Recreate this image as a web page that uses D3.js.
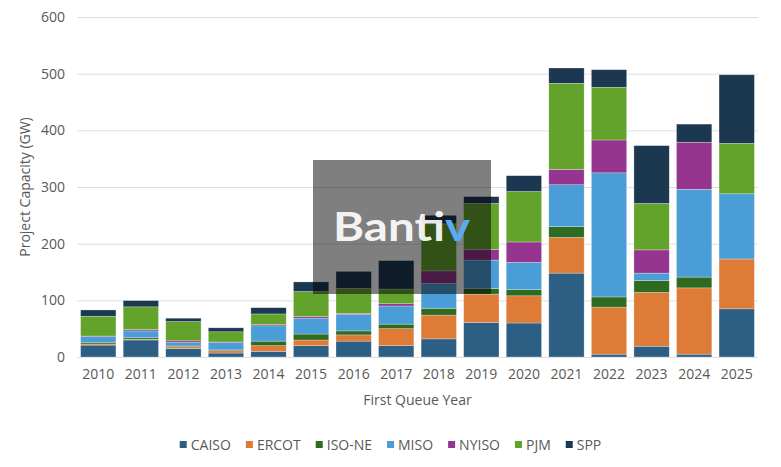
<!DOCTYPE html>
<html>
<head>
<meta charset="utf-8">
<script src="https://cdn.jsdelivr.net/npm/d3@7"></script>
<style>
  html, body { margin: 0; padding: 0; background: #fff; }
  text { font-family: "Open Sans", "Liberation Sans", sans-serif; fill: #595959; }
</style>
</head>
<body>
<svg id="chart" width="781" height="467"></svg>
<script>
"use strict";

// ---- data ----
const years = ["2010","2011","2012","2013","2014","2015","2016","2017","2018","2019","2020","2021","2022","2023","2024","2025"];
const seriesNames = ["CAISO", "ERCOT", "ISO-NE", "MISO", "NYISO", "PJM", "SPP"];

const caiso = [21, 30, 15, 7, 10, 20, 28, 20, 32, 61, 60, 148, 5, 19, 5, 85];
const ercot = [2, 1.5, 3, 4, 10, 10, 11, 30, 42, 50, 48, 63, 83, 95, 117, 88];
const isone = [3, 2.5, 1.5, 1.5, 8, 10.5, 7, 8, 12, 10, 11, 19, 18, 21, 19, 0];
const miso  = [10, 12, 6, 13, 27, 28, 29, 32, 44, 50, 48, 74, 219, 13, 155, 115];
const nyiso = [1, 2.5, 3, 1, 2, 3, 2, 4, 22, 19, 36, 27, 58, 41, 83, 0];
const pjm   = [35, 40, 34, 18, 19, 44, 44, 26, 83, 81, 89, 152, 93, 82, 0, 89];
const spp   = [11, 11, 6, 7, 11, 17, 30, 50, 15, 12, 28, 27, 31, 102, 32, 121];

const yTicks = [0, 100, 200, 300, 400, 500, 600];
const colors = ["#2d5f84", "#dd7b37", "#2f6a21", "#4a9dd6", "#95358f", "#63a32c", "#1b3850"];

// ---- build table for stacking ----
const allSeries = [caiso, ercot, isone, miso, nyiso, pjm, spp];
const table = years.map((y, i) => {
    let row = { year: y };
    seriesNames.forEach((s, k) => row[s] = allSeries[k][i]);
    return row;
});

const svg = d3.select("#chart");
const margin = { top: 17, right: 23, bottom: 110, left: 77 };
const width = 781 - margin.left - margin.right;
const height = 467 - margin.top - margin.bottom;

const g = svg.append("g").attr("transform", `translate(${margin.left},${margin.top})`);

const x = d3.scaleBand().domain(years).range([0, width]).paddingInner(0.17).paddingOuter(0.085);
const y = d3.scaleLinear().domain([0, 600]).range([height, 0]);
const color = d3.scaleOrdinal().domain(seriesNames).range(colors);

// gridlines
g.append("g")
    .call(d3.axisLeft(y).tickValues(yTicks).tickSize(-width).tickFormat(""))
    .call(ax => ax.select(".domain").remove())
    .call(ax => ax.selectAll("line").attr("stroke", "#dedede").attr("stroke-width", 1));

// y tick labels
g.append("g")
    .call(d3.axisLeft(y).tickValues(yTicks).tickSize(0).tickPadding(12))
    .call(ax => ax.select(".domain").remove())
    .call(ax => ax.selectAll("text").style("font-size", "14px").attr("fill", "#595959"));

// x tick labels
g.append("g")
    .attr("transform", `translate(0,${height})`)
    .call(d3.axisBottom(x).tickSize(0).tickPadding(12))
    .call(ax => ax.select(".domain").remove())
    .call(ax => ax.selectAll("text").style("font-size", "14px").attr("fill", "#595959"));

// stacked bars
const stack = d3.stack().keys(seriesNames);
const layers = stack(table);

g.selectAll(".layer")
    .data(layers)
    .join("g")
    .attr("class", "layer")
    .attr("fill", d => color(d.key))
    .selectAll("rect")
    .data(d => d)
    .join("rect")
    .attr("x", d => x(d.data.year))
    .attr("width", x.bandwidth())
    .attr("y", d => y(d[1]))
    .attr("height", d => y(d[0]) - y(d[1]))
    .attr("stroke", "#ffffff")
    .attr("stroke-opacity", 0.45)
    .attr("stroke-width", 0.6);

// axis titles
svg.append("text")
    .attr("x", margin.left + width / 2)
    .attr("y", 405)
    .attr("text-anchor", "middle")
    .style("font-size", "14px")
    .text("First Queue Year");

svg.append("text")
    .attr("transform", "translate(30,187) rotate(-90)")
    .attr("text-anchor", "middle")
    .style("font-size", "14px")
    .text("Project Capacity (GW)");

// legend
const legend = svg.append("g").attr("class", "legend");
let lx = 0;
seriesNames.forEach(name => {
    let item = legend.append("g").attr("transform", `translate(${lx},0)`);
    item.append("rect")
        .attr("x", 0).attr("y", -4)
        .attr("width", 7).attr("height", 7)
        .attr("fill", color(name));
    let t = item.append("text")
        .attr("x", 11).attr("y", 0)
        .attr("dy", "0.35em")
        .style("font-size", "14px")
        .text(name);
    lx += 11 + t.node().getComputedTextLength() + 15;
});
lx -= 15;
legend.attr("transform", `translate(${(781 - lx) / 2},445)`);

// watermark overlay
const wm = svg.append("g");
wm.append("rect")
    .attr("x", 313).attr("y", 160)
    .attr("width", 178).attr("height", 134)
    .attr("fill", "#000")
    .attr("opacity", 0.5);
const wmText = wm.append("text")
    .attr("x", 333).attr("y", 241)
    .attr("textLength", 137)
    .attr("lengthAdjust", "spacingAndGlyphs")
    .style("font-family", "Lato, 'Open Sans', sans-serif")
    .style("font-weight", "bold")
    .style("font-size", "40px");
wmText.append("tspan").style("fill", "#ffffff").attr("fill-opacity", 0.92).text("Banti");
wmText.append("tspan").style("fill", "#5aaaf0").text("v");
</script>
</body>
</html>
